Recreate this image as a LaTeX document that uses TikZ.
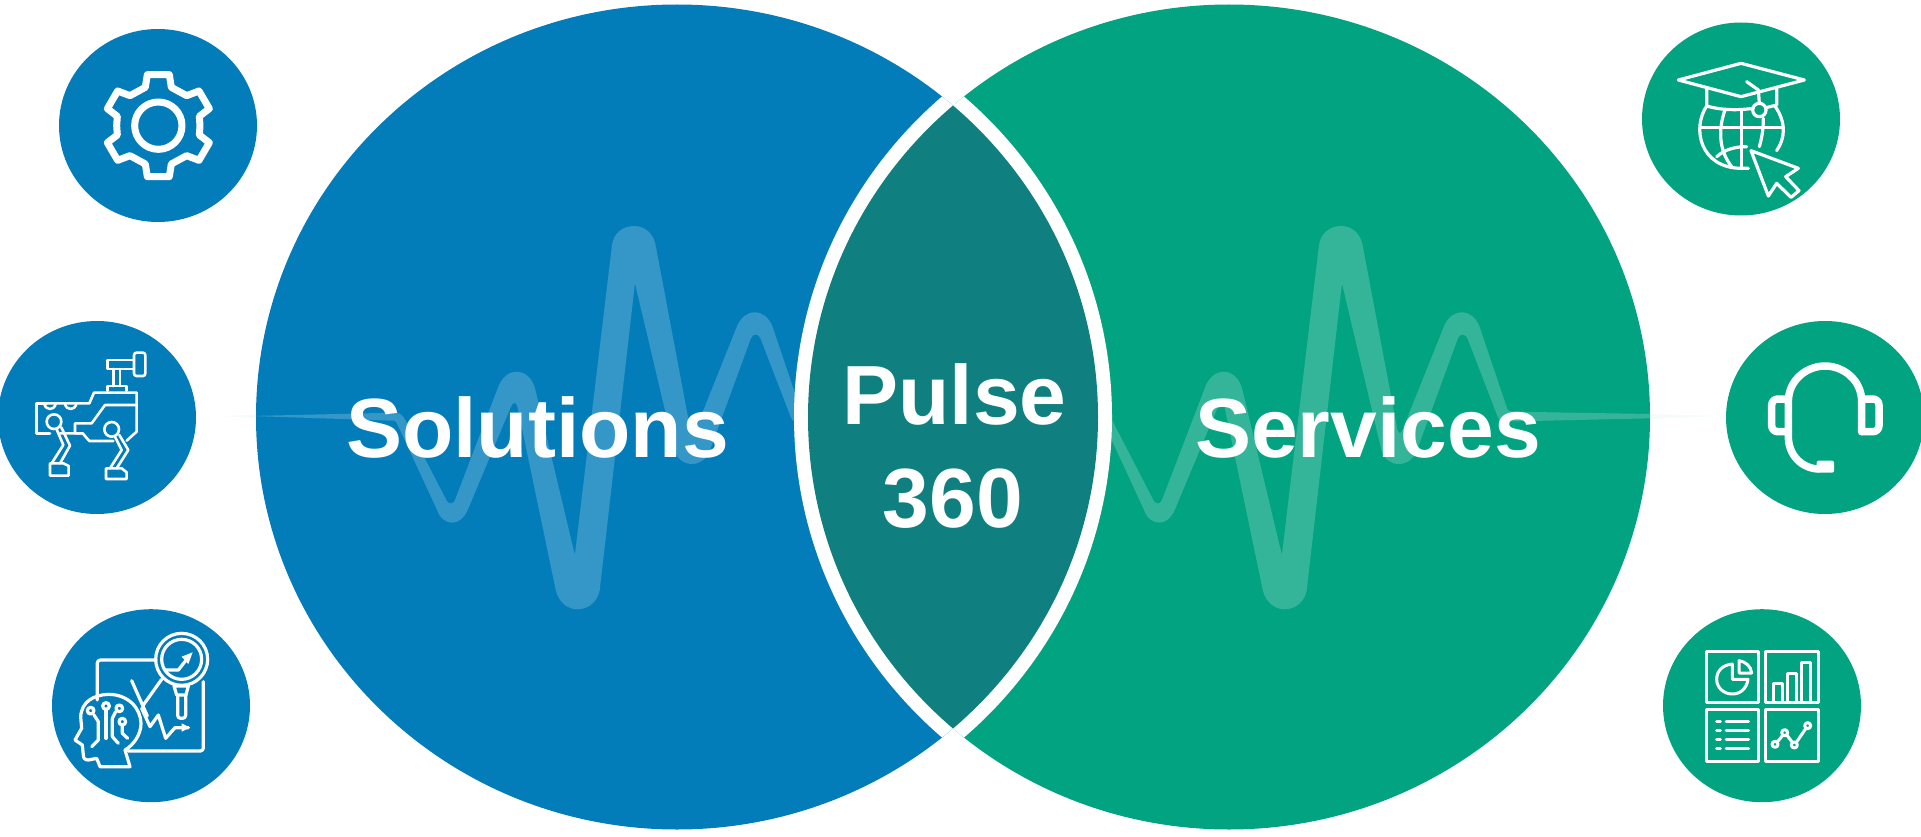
\documentclass[tikz,border=0pt]{standalone}
\usepackage{fontspec}
\setmainfont{Liberation Sans}
\definecolor{solblue}{HTML}{027DBA}
\definecolor{srvgreen}{HTML}{02A380}
\definecolor{lensteal}{HTML}{107F80}
\tikzset{
  bigcaption/.style={text=white,font=\bfseries\fontsize{84}{84}\selectfont,inner sep=0pt,anchor=base},
  wavefill/.style={fill=white,fill opacity=0.2},
  iconbg/.style={x radius=99pt,y radius=96.5pt},
  gl/.style={draw=white,line width=#1,line join=round,line cap=round},
  zoomed/.style={x=0.33333pt,y=-0.33333pt},
}
\newcommand{\wavepath}{
  (30,618) -- (405,608) .. controls (425,608) and (432,628) .. (440,650) -- (540,872)
  .. controls (545,882) and (556,884) .. (561,872) -- (675,530)
  .. controls (685,500) and (705,485) .. (722,485) .. controls (745,485) and (765,505) .. (772,540)
  -- (875,1035) -- (972,105) .. controls (976,70) and (1000,48) .. (1030,48)
  .. controls (1058,48) and (1078,70) .. (1085,100) -- (1177,660)
  .. controls (1180,672) and (1186,672) .. (1190,660) -- (1300,345)
  .. controls (1310,322) and (1325,307) .. (1345,307) .. controls (1365,307) and (1380,322) .. (1390,345)
  -- (1465,600) .. controls (1468,604) and (1470,605) .. (1475,605) -- (1838,612) -- (1838,625) -- (1450,635)
  .. controls (1440,632) and (1438,615) .. (1432,600) -- (1360,385)
  .. controls (1354,370) and (1340,370) .. (1335,385) -- (1225,730)
  .. controls (1215,750) and (1200,762) .. (1180,762) .. controls (1160,762) and (1140,745) .. (1135,720)
  -- (1032,220) -- (940,1140) .. controls (935,1175) and (910,1198) .. (882,1198)
  .. controls (855,1198) and (832,1175) .. (825,1140) -- (725,590)
  .. controls (722,575) and (713,575) .. (708,590) -- (595,900)
  .. controls (585,925) and (570,938) .. (555,938) .. controls (538,938) and (522,925) .. (515,900)
  -- (410,640) .. controls (405,630) and (402,632) .. (395,632) -- cycle
}
\begin{document}
\begin{tikzpicture}[x=1pt,y=-1pt]
\useasboundingbox (0,0) rectangle (1921,837);
% faint tails outside the big circles
\fill[color=solblue!4] (223,416) -- (257,414.5) -- (257,418.5) -- cycle;
\fill[color=srvgreen!4] (1649,414) -- (1720,416) -- (1649,419) -- cycle;
% big circles
\fill[solblue] (677,417) ellipse [x radius=421pt,y radius=412.5pt];
\begin{scope}
  \clip (677,417) ellipse [x radius=421pt,y radius=412.5pt];
  \fill[wavefill,shift={(240,210)},x=0.3827pt,y=-0.33333pt] \wavepath;
\end{scope}
\fill[srvgreen] (1229,417) ellipse [x radius=421pt,y radius=412.5pt];
\begin{scope}
  \clip (1229,417) ellipse [x radius=421pt,y radius=412.5pt];
  \fill[wavefill,shift={(947,210)},x=0.3827pt,y=-0.33333pt] \wavepath;
\end{scope}
% white rims and lens
\begin{scope}
  \clip (677,417) ellipse [x radius=421pt,y radius=412.5pt];
  \fill[white] (1229,417) ellipse [x radius=435pt,y radius=426.5pt];
\end{scope}
\begin{scope}
  \clip (1229,417) ellipse [x radius=421pt,y radius=412.5pt];
  \fill[white] (677,417) ellipse [x radius=435pt,y radius=426.5pt];
\end{scope}
\begin{scope}
  \clip (677,417) ellipse [x radius=421pt,y radius=412.5pt];
  \fill[lensteal] (1229,417) ellipse [x radius=421pt,y radius=412.5pt];
\end{scope}
% captions
\node[bigcaption] (solutions) at (537.5,457) {Solutions};
\node[bigcaption] (services) at (1368,457) {Services};
\node[bigcaption] (pulse) at (954.5,424) {Pulse};
\node[bigcaption] (threesixty) at (953,527) {360};
% icon discs
\fill[solblue] (158,125.5) ellipse [iconbg];
\fill[solblue] (97,417.5) ellipse [iconbg];
\fill[solblue] (151,705.7) ellipse [iconbg];
\fill[srvgreen] (1741,119) ellipse [iconbg];
\fill[srvgreen] (1825,417.5) ellipse [iconbg];
\fill[srvgreen] (1762,705.7) ellipse [iconbg];
% gear
\begin{scope}[shift={(0,0)},zoomed]
  \draw[gl=7pt] (442,224) -- (508,224) -- (514,262) -- (560,287) -- (597,273) -- (628,326) -- (598,349) -- (600,377) -- (598,405) -- (628,428) -- (597,481) -- (560,467) -- (514,492) -- (508,530) -- (442,530) -- (436,492) -- (390,467) -- (353,481) -- (322,428) -- (352,405) -- (350,377) -- (352,349) -- (322,326) -- (353,273) -- (390,287) -- (436,262) -- cycle;
  \draw[gl=7pt] (475,377) circle [radius=71];
\end{scope}
% robot
\begin{scope}[shift={(0,300)},zoomed]
  \begin{scope}[gl=2.6pt]
  \draw[rounded corners=2.5pt] (402,158) rectangle (436,228);
  \draw (402,180) -- (322,180) -- (322,207) -- (402,207);
  \draw (340,207) -- (340,258) (360,207) -- (360,258);
  \draw (322,272) -- (322,258) -- (380,258) -- (380,272);
  \draw (140,310) -- (110,310) -- (110,400) -- (150,400);
  \draw (140,310) -- (268,310) -- (282,278) -- (410,278) -- (410,395) -- (380,422);
  \draw (180,400) -- (248,400) -- (268,423) -- (340,423);
  \draw (248,400) -- (225,400) -- (225,370) -- (275,370) -- (315,315) -- (410,315);
  \draw (133,312) .. controls (138,332) and (162,332) .. (167,312);
  \draw (195,312) .. controls (200,332) and (224,332) .. (229,312);
  \draw (162,365) circle [radius=22];
  \draw (335,388) circle [radius=22];
  \draw (170,388) -- (190,435) -- (155,490);
  \draw (184,382) -- (210,437) -- (180,490);
  \draw (345,410) -- (365,450) -- (330,505);
  \draw (358,405) -- (385,450) -- (350,505);
  \draw (150,527) -- (150,490) -- (190,490) -- (206,498) -- (206,527) -- cycle;
  \draw (318,537) -- (318,505) -- (365,505) -- (380,517) -- (380,537) -- cycle;
  \end{scope}
\end{scope}
% analytics head
\begin{scope}[shift={(0,590)},zoomed]
  \begin{scope}[gl=3.2pt]
  \draw (545,208) circle [radius=78];
  \draw (545,208) circle [radius=60];
  \draw (497,240) -- (535,240) -- (568,198);
  \fill[white] (545,200) -- (578,187) -- (565,222) -- cycle;
  \draw (522,288) -- (565,288) -- (558,315) -- (530,315) -- cycle;
  \draw[rounded corners=3pt] (533,315) -- (533,385) -- (557,385) -- (557,315);
  \draw[rounded corners=3pt] (468,210) -- (292,210) -- (292,330);
  \draw[rounded corners=3pt] (610,275) -- (610,483) -- (385,483);
  \draw (395,272) -- (442,378);
  \draw (430,345) -- (485,268);
  \draw (425,355) -- (450,410) -- (475,375) -- (497,445) -- (525,413) -- (565,413);
  \fill[white] (545,400) -- (570,413) -- (545,425) -- cycle;
  \draw (390,530) -- (300,530) -- (290,505) -- (265,510) .. controls (255,510) and (250,505) .. (250,495) -- (247,465) -- (225,450) -- (245,415) -- (242,380) .. controls (245,335) and (280,315) .. (325,313) .. controls (385,313) and (422,355) .. (423,400) .. controls (423,435) and (400,465) .. (375,480) -- cycle;
  \draw (272,362) circle [radius=10];
  \draw (282,375) -- (295,395) -- (295,450) -- (275,470);
  \draw (318,348) circle [radius=10];
  \draw (318,360) -- (318,445);
  \draw (358,355) circle [radius=10];
  \draw (347,365) -- (337,385) -- (337,440) -- (355,460);
  \draw (367,395) circle [radius=10];
  \draw (367,407) -- (367,430) -- (383,445);
  \end{scope}
\end{scope}
% graduation globe
\begin{scope}[shift={(1620,0)},zoomed]
  \begin{scope}[gl=3.2pt]
  \draw (175,240) -- (363,190) -- (553,240) -- (363,290) -- cycle;
  \draw (260,265) -- (260,318) .. controls (300,330) and (350,332) .. (400,325);
  \draw (470,265) -- (470,315) -- (438,323);
  \draw (380,245) -- (415,270) -- (418,310);
  \draw (418,330) circle [radius=20];
  \draw (260,318) .. controls (215,385) and (240,505) .. (365,505) -- (385,505);
  \draw (465,318) .. controls (500,370) and (495,415) .. (470,452);
  \draw (240,382) -- (490,382);
  \draw (365,330) -- (365,500);
  \draw (315,330) .. controls (295,385) and (295,450) .. (335,500);
  \draw (430,355) .. controls (430,390) and (425,415) .. (418,440);
  \draw (290,470) .. controls (315,448) and (345,440) .. (380,440);
  \draw[fill=srvgreen] (393,452) -- (535,505) -- (497,530) -- (537,572) -- (513,592) -- (470,550) -- (445,588) -- cycle;
  \end{scope}
\end{scope}
% headset
\begin{scope}[shift={(1700,330)},zoomed]
  \begin{scope}[gl=7.5pt]
  \draw (485,305) -- (485,215) .. controls (485,150) and (430,108) .. (375,108) .. controls (320,108) and (265,150) .. (265,215) -- (265,320) .. controls (265,375) and (305,415) .. (355,417);
  \draw[rounded corners=6pt] (265,207) -- (215,207) -- (215,305) -- (265,305);
  \draw[rounded corners=6pt] (485,207) -- (537,207) -- (537,305) -- (485,305);
  \fill[white,rounded corners=2pt] (350,392) rectangle (402,428);
  \end{scope}
\end{scope}
% dashboard
\begin{scope}[shift={(1640,590)},zoomed]
  \begin{scope}[gl=3pt]
  \draw (198,183) rectangle (356,338);
  \draw (376,183) rectangle (534,338);
  \draw (198,359) rectangle (356,514);
  \draw (376,359) rectangle (534,514);
  \draw (277,222) .. controls (245,225) and (230,245) .. (230,268) .. controls (230,292) and (250,312) .. (277,312) .. controls (302,312) and (320,295) .. (324,268) -- (277,268) -- cycle;
  \draw (297,212) .. controls (318,215) and (333,230) .. (335,249) -- (297,249) -- cycle;
  \draw (400,333) -- (400,280) -- (428,280) -- (428,333);
  \draw (442,333) -- (442,250) -- (470,250) -- (470,333);
  \draw (483,333) -- (483,218) -- (510,218) -- (510,333);
  \foreach \yy in {395,422,449,476} {
    \draw (230,\yy) -- (241,\yy);
    \draw (258,\yy) -- (326,\yy);
  }
  \draw (412,456) -- (428,436) (441,436) -- (457,457) (469,457) -- (497,416);
  \draw (405,463) circle [radius=9];
  \draw (434,428) circle [radius=9];
  \draw (463,465) circle [radius=9];
  \draw (503,407) circle [radius=9];
  \end{scope}
\end{scope}
\end{tikzpicture}
\end{document}
